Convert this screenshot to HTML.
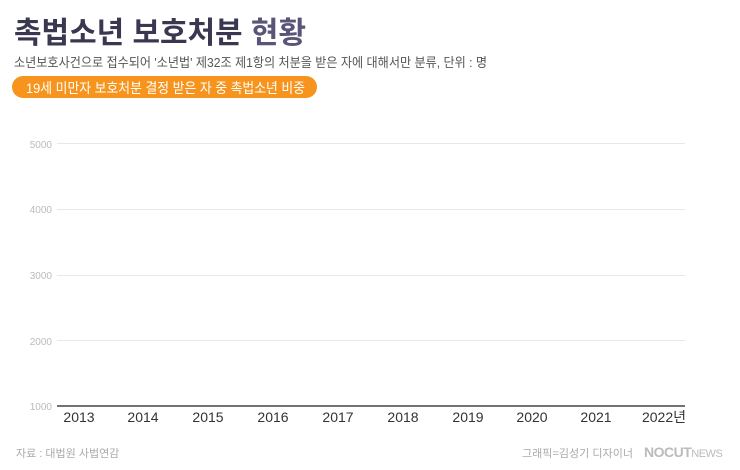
<!DOCTYPE html>
<html><head><meta charset="utf-8"><style>
body{margin:0;background:#fff;}
svg{display:block;}
</style></head><body>
<svg width="740" height="470" xmlns="http://www.w3.org/2000/svg" font-family="'Liberation Sans','Noto Sans CJK KR',sans-serif">
<rect width="740" height="470" fill="#fff"/>
<text x="14" y="43" font-size="30" font-weight="bold" fill="#3a3850" textLength="292" lengthAdjust="spacingAndGlyphs">촉법소년 보호처분 <tspan fill="#5a5478">현황</tspan></text>
<text x="14" y="67" font-size="13" fill="#555" textLength="473" lengthAdjust="spacingAndGlyphs">소년보호사건으로 접수되어 '소년법' 제32조 제1항의 처분을 받은 자에 대해서만 분류, 단위 : 명</text>
<rect x="12" y="76" width="305" height="22" rx="11" fill="#f7941d"/>
<text x="26" y="93" font-size="14" fill="#fff" textLength="279" lengthAdjust="spacingAndGlyphs">19세 미만자 보호처분 결정 받은 자 중 촉법소년 비중</text>
<g stroke="#e8e8e8" stroke-width="1">
<line x1="57" y1="143.5" x2="685" y2="143.5"/>
<line x1="57" y1="209.5" x2="685" y2="209.5"/>
<line x1="57" y1="275.5" x2="685" y2="275.5"/>
<line x1="57" y1="340.5" x2="685" y2="340.5"/>
</g>
<line x1="57" y1="406" x2="685" y2="406" stroke="#444" stroke-width="1.5"/>
<g font-size="10" fill="#bbb" text-anchor="end">
<text x="52" y="148">5000</text>
<text x="52" y="213">4000</text>
<text x="52" y="279">3000</text>
<text x="52" y="345">2000</text>
<text x="52" y="410">1000</text>
</g>
<g font-size="14" fill="#333" text-anchor="middle">
<text x="79" y="422">2013</text>
<text x="143" y="422">2014</text>
<text x="208" y="422">2015</text>
<text x="273" y="422">2016</text>
<text x="338" y="422">2017</text>
<text x="403" y="422">2018</text>
<text x="468" y="422">2019</text>
<text x="532" y="422">2020</text>
<text x="596" y="422">2021</text>
<text x="664" y="422">2022년</text>
</g>
<text x="16" y="457" font-size="11" fill="#aaa">자료 : 대법원 사법연감</text>
<text x="522" y="457" font-size="11" fill="#aaa" textLength="111" lengthAdjust="spacingAndGlyphs">그래픽=김성기 디자이너</text>
<text x="644" y="457" font-size="14" font-weight="bold" fill="#bbb" letter-spacing="-0.5">NOCUT<tspan font-weight="normal" font-size="11">NEWS</tspan></text>
</svg>
</body></html>
